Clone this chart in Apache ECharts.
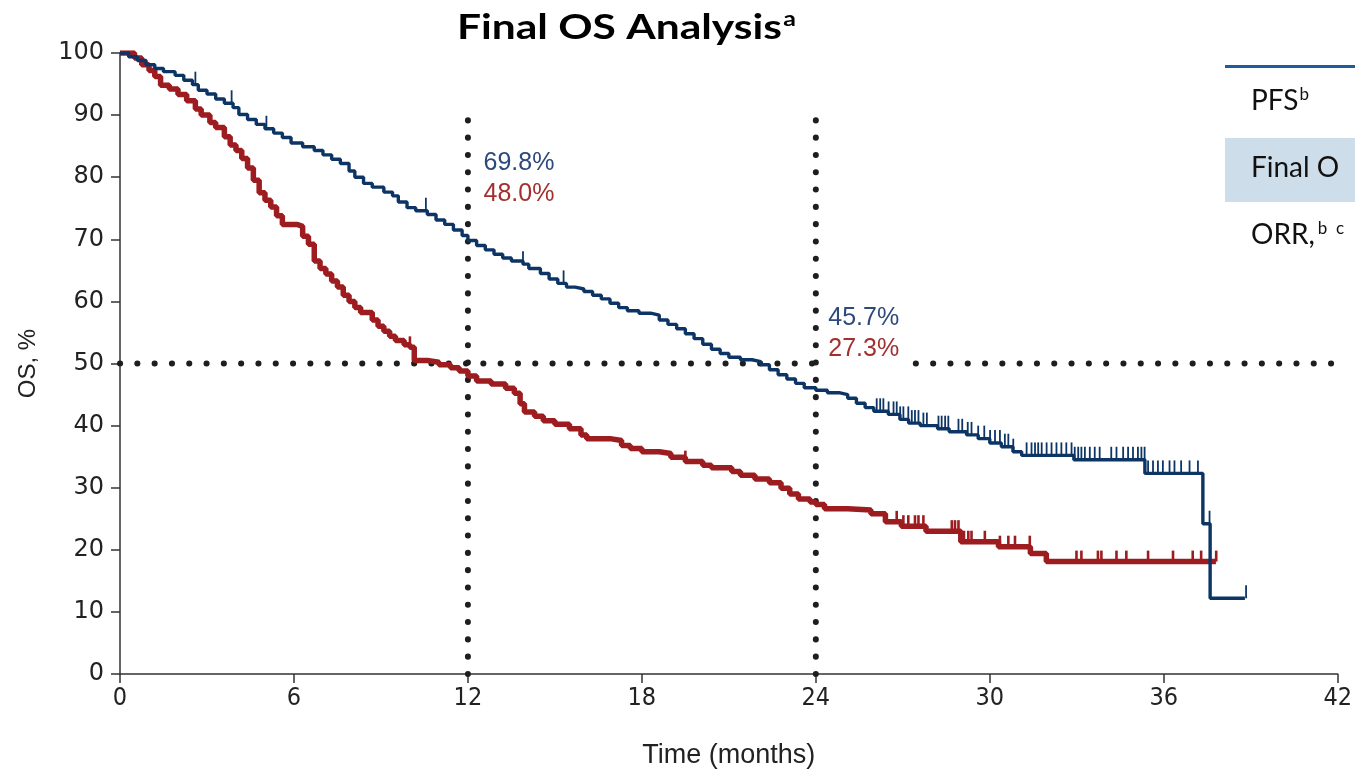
<!DOCTYPE html>
<html>
<head>
<meta charset="utf-8">
<title>Final OS Analysis</title>
<script src="https://cdn.jsdelivr.net/npm/echarts@6/dist/echarts.min.js"></script>
<style>
  html, body { margin: 0; padding: 0; background: #fff; }
  #chart { width: 1355px; height: 774px; }
</style>
</head>
<body>
<div id="chart"></div>
<script>
// Kaplan–Meier step points: [month, OS %]; each value holds until the next point.
const blueCurve = [
  [0, 100], [0.3, 99.4], [0.6, 98.8], [0.9, 98.1], [1.2, 97.5], [1.5, 97.0], [1.9, 96.4],
  [2.2, 95.6], [2.5, 94.9], [2.7, 94.0], [3.0, 93.4], [3.3, 92.6], [3.6, 91.9], [3.9, 91.2],
  [4.1, 90.1], [4.4, 89.3], [4.7, 88.5], [5.0, 87.8], [5.3, 87.1], [5.6, 86.4], [5.9, 85.5],
  [6.3, 84.9], [6.7, 84.3], [7.0, 83.6], [7.3, 82.9], [7.6, 82.2], [7.9, 81.0], [8.1, 80.0],
  [8.4, 79.0], [8.7, 78.4], [9.1, 77.6], [9.4, 77.0], [9.6, 76.0], [9.9, 75.1], [10.2, 74.6],
  [10.6, 74.0], [10.9, 73.1], [11.2, 72.4], [11.5, 71.5], [11.8, 70.6], [12.0, 69.8],
  [12.3, 69.0], [12.6, 68.3], [12.9, 67.6], [13.2, 67.0], [13.5, 66.5], [13.9, 66.0],
  [14.1, 65.3], [14.5, 64.5], [14.8, 63.6], [15.1, 62.9], [15.4, 62.3], [15.7, 62.0],
  [16.0, 61.6], [16.3, 61.0], [16.6, 60.4], [16.9, 59.7], [17.2, 59.0], [17.5, 58.5],
  [17.9, 58.1], [18.3, 57.8], [18.6, 57.0], [18.9, 56.3], [19.2, 55.6], [19.5, 54.8],
  [19.8, 54.0], [20.1, 53.1], [20.4, 52.3], [20.7, 51.6], [21.0, 51.0], [21.4, 50.6],
  [21.8, 50.3], [22.1, 49.8], [22.4, 49.0], [22.7, 48.2], [23.0, 47.5], [23.3, 46.8],
  [23.6, 46.1], [24.0, 45.7], [24.4, 45.3], [24.8, 45.0], [25.1, 44.4], [25.4, 43.6],
  [25.7, 42.9], [26.0, 42.3], [26.5, 41.8], [26.9, 41.0], [27.2, 40.4], [27.6, 40.0],
  [28.2, 39.5], [28.6, 39.0], [29.2, 38.5], [29.6, 37.9], [30.0, 37.2], [30.4, 36.6],
  [30.8, 35.8], [31.1, 35.2], [32.9, 34.5], [35.35, 32.3], [37.35, 24.2], [37.6, 12.2],
  [38.8, 12.2]
];

const redCurve = [
  [0, 100], [0.5, 99.2], [0.75, 98.1], [1.0, 97.2], [1.2, 96.2], [1.4, 94.8], [1.7, 94.2],
  [2.0, 93.3], [2.3, 92.3], [2.6, 91.0], [2.8, 90.0], [3.1, 88.8], [3.3, 88.0], [3.6, 86.5],
  [3.8, 85.2], [4.0, 84.3], [4.2, 83.0], [4.4, 81.5], [4.6, 79.5], [4.8, 77.5], [5.0, 76.3],
  [5.2, 75.2], [5.4, 73.8], [5.6, 72.4], [6.1, 72.1], [6.3, 70.5], [6.5, 69.2], [6.7, 66.5],
  [6.9, 65.3], [7.1, 64.4], [7.3, 63.3], [7.5, 62.3], [7.7, 61.0], [7.9, 60.0], [8.1, 59.0],
  [8.3, 58.2], [8.7, 57.0], [8.9, 56.0], [9.1, 55.2], [9.3, 54.4], [9.5, 53.7], [9.8, 53.0],
  [10.0, 52.6], [10.15, 50.5], [10.6, 50.2], [11.0, 49.8], [11.4, 49.3], [11.7, 48.8],
  [12.0, 48.0], [12.3, 47.2], [12.8, 46.7], [13.3, 46.0], [13.6, 45.2], [13.8, 43.5],
  [13.95, 42.2], [14.3, 41.5], [14.6, 40.8], [15.0, 40.2], [15.5, 39.5], [15.9, 38.5],
  [16.1, 37.9], [16.9, 37.6], [17.3, 36.8], [17.6, 36.3], [18.0, 35.8], [18.6, 35.5],
  [19.0, 34.9], [19.5, 34.2], [20.1, 33.6], [20.4, 33.2], [21.1, 32.6], [21.4, 32.0],
  [21.9, 31.4], [22.4, 30.8], [22.8, 29.9], [23.1, 29.0], [23.4, 28.2], [23.8, 27.7],
  [24.0, 27.3], [24.3, 26.6], [25.1, 26.4], [25.9, 25.8], [26.4, 24.5], [26.95, 23.8],
  [27.8, 23.0], [29.0, 21.3], [30.3, 20.5], [31.4, 19.4], [31.95, 18.1], [37.8, 18.1]
];

// Censoring times (months)
const blueCensored = [
  2.6, 3.85, 5.05, 10.55, 13.9, 15.3,
  26.10, 26.22, 26.33, 26.51, 26.68, 26.79, 26.91, 27.02, 27.19, 27.31, 27.42, 27.54,
  27.71, 27.83, 28.23, 28.34, 28.46, 28.57, 28.92, 29.05, 29.24, 29.37, 29.60, 29.81,
  30.01, 30.18, 30.35, 30.52, 30.64, 30.81, 31.27, 31.44, 31.56, 31.67, 31.79, 31.96,
  32.13, 32.30, 32.47, 32.64, 32.82, 32.93, 33.05, 33.16, 33.28, 33.45, 33.62, 33.79,
  34.19, 34.37, 34.60, 34.77, 34.94, 35.11, 35.23, 35.34, 35.46, 35.63, 35.80, 35.97,
  36.20, 36.37, 36.60, 36.89, 37.18, 37.58, 38.84
];
const redCensored = [
  10.0, 19.5,
  26.79, 27.02, 27.19, 27.42, 27.54, 27.71, 28.69, 28.80, 28.92, 29.11, 29.26, 29.37,
  29.83, 30.35, 30.64, 30.87, 31.38, 32.99, 33.16, 33.73, 33.85, 34.37, 34.71, 35.46,
  36.32, 37.00, 37.29, 37.81
];

// Landmark estimates at 12 and 24 months
const landmarkMonths = [12, 24];
const landmarkBlue = ['69.8%', '45.7%'];
const landmarkRed = ['48.0%', '27.3%'];

const xTicks = [0, 6, 12, 18, 24, 30, 36, 42];
const yTicks = [0, 10, 20, 30, 40, 50, 60, 70, 80, 90, 100];
const tableRows = ['PFS', 'Final O', 'ORR,'];

const BLUE = '#0c3565';
const RED = '#9c1c20';
const BLUE_TEXT = '#2c4a7c';
const RED_TEXT = '#a3302f';

function survivalAt(curve, t) {
  let v = curve[0][1];
  for (const p of curve) { if (p[0] <= t + 1e-9) v = p[1]; else break; }
  return v;
}

const chart = echarts.init(document.getElementById('chart'), null, { renderer: 'canvas' });

const dotStyle = { color: '#1e1e1e', width: 6, type: [0.1, 17.2], cap: 'round' };

// label anchors: just right of each dotted landmark line, vertically between the two values
const labelAnchors = [[12.28, 79.8], [24.17, 54.8]];

const option = {
  animation: false,
  backgroundColor: '#fff',
  grid: { left: 120, right: 15, top: 53, bottom: 98, containLabel: false },
  xAxis: {
    type: 'value', min: 0, max: 42, interval: 6,
    name: 'Time (months)', nameLocation: 'middle', nameGap: 68,
    nameTextStyle: { fontFamily: 'Liberation Sans', fontSize: 27, color: '#222' },
    axisLine: { lineStyle: { color: '#333', width: 1.5 } },
    axisTick: { length: 9, lineStyle: { color: '#333', width: 1.5 } },
    axisLabel: { fontFamily: '"Liberation Sans Narrow", "DejaVu Sans Condensed", "Liberation Sans"',
      fontSize: 25, color: '#222', margin: 12,
      formatter: v => xTicks.includes(v) ? String(v) : '' },
    splitLine: { show: false }
  },
  yAxis: {
    type: 'value', min: 0, max: 100, interval: 10,
    name: 'OS, %', nameLocation: 'middle', nameGap: 80, nameRotate: 90,
    nameTextStyle: { fontFamily: 'Liberation Sans', fontSize: 24, color: '#222' },
    axisLine: { lineStyle: { color: '#333', width: 1.5 } },
    axisTick: { length: 9, lineStyle: { color: '#333', width: 1.5 } },
    axisLabel: { fontFamily: 'DejaVu Sans', fontSize: 24, color: '#222', margin: 16,
      formatter: v => yTicks.includes(v) ? String(v) : '' },
    splitLine: { show: false }
  },
  series: [
    {
      name: 'ref50', type: 'line', data: [[0, 50], [42, 50]],
      symbol: 'none', lineStyle: dotStyle, z: 1, silent: true
    },
    ...landmarkMonths.map(m => ({
      name: 'ref' + m, type: 'line', data: [[m, 0], [m, 90]],
      symbol: 'none', lineStyle: dotStyle, z: 1, silent: true
    })),
    {
      name: 'Control', type: 'line', data: redCurve, step: 'end',
      symbol: 'none', lineStyle: { color: RED, width: 5.5 }, z: 3
    },
    {
      name: 'Experimental', type: 'line', data: blueCurve, step: 'end',
      symbol: 'none', lineStyle: { color: BLUE, width: 3.4 }, z: 4
    },
    {
      name: 'Control censored', type: 'scatter',
      data: redCensored.map(t => [t, survivalAt(redCurve, t)]),
      symbol: 'rect', symbolSize: [2.6, 11], symbolOffset: [0, -5.5],
      itemStyle: { color: RED, opacity: 1 }, z: 3
    },
    {
      name: 'Experimental censored', type: 'scatter',
      data: blueCensored.map(t => [t, survivalAt(blueCurve, t)]),
      symbol: 'rect', symbolSize: [1.8, 13], symbolOffset: [0, -6.5],
      itemStyle: { color: BLUE, opacity: 1 }, z: 4
    },
    {
      name: 'Landmark labels', type: 'scatter', symbol: 'circle', symbolSize: 1, z: 10,
      itemStyle: { color: 'rgba(0,0,0,0)', opacity: 1 },
      data: landmarkMonths.map((m, i) => ({
        value: labelAnchors[i],
        label: {
          show: true, position: 'right', distance: 0,
          formatter: '{b|' + landmarkBlue[i] + '}\n{r|' + landmarkRed[i] + '}',
          backgroundColor: '#fff', padding: [6, 4, 6, 7],
          rich: {
            b: { fontFamily: 'Liberation Sans', fontSize: 25, color: BLUE_TEXT, lineHeight: 31 },
            r: { fontFamily: 'Liberation Sans', fontSize: 25, color: RED_TEXT, lineHeight: 31 }
          }
        }
      }))
    }
  ],
  graphic: [
    {
      type: 'text', x: 457, y: 28, scaleX: 1.25, z: 20,
      style: {
        text: '{t|Final OS Analysis}{s|a}',
        verticalAlign: 'middle',
        rich: {
          t: { fontFamily: 'Lato', fontWeight: 'bold', fontSize: 34, fill: '#000', lineHeight: 40 },
          s: { fontFamily: 'Lato', fontWeight: 'bold', fontSize: 20, fill: '#000', lineHeight: 40, padding: [0, 0, 16, 1] }
        }
      }
    },
    { type: 'rect', shape: { x: 1225, y: 138, width: 140, height: 64 }, style: { fill: '#cddde9' }, silent: true },
    { type: 'rect', shape: { x: 1225, y: 65, width: 140, height: 3 }, style: { fill: '#1f5c9c' }, silent: true },
    { type: 'text', x: 1251, y: 86, style: { text: '{m|' + tableRows[0] + '}{s|b}', rich: {
        m: { fontFamily: 'Lato', fontSize: 28, fill: '#111' },
        s: { fontFamily: 'Lato', fontSize: 17, fill: '#111', verticalAlign: 'top', padding: [0, 0, 13, 1] } } } },
    { type: 'text', x: 1251, y: 154, style: { text: tableRows[1], fontFamily: 'Lato', fontSize: 28, fill: '#111' } },
    { type: 'text', x: 1251, y: 220, style: { text: '{m|' + tableRows[2] + '}{s|b  c}', rich: {
        m: { fontFamily: 'Lato', fontSize: 28, fill: '#111' },
        s: { fontFamily: 'Lato', fontSize: 17, fill: '#111', verticalAlign: 'top', padding: [0, 0, 13, 3] } } } }
  ]
};

chart.setOption(option);
</script>
</body>
</html>
